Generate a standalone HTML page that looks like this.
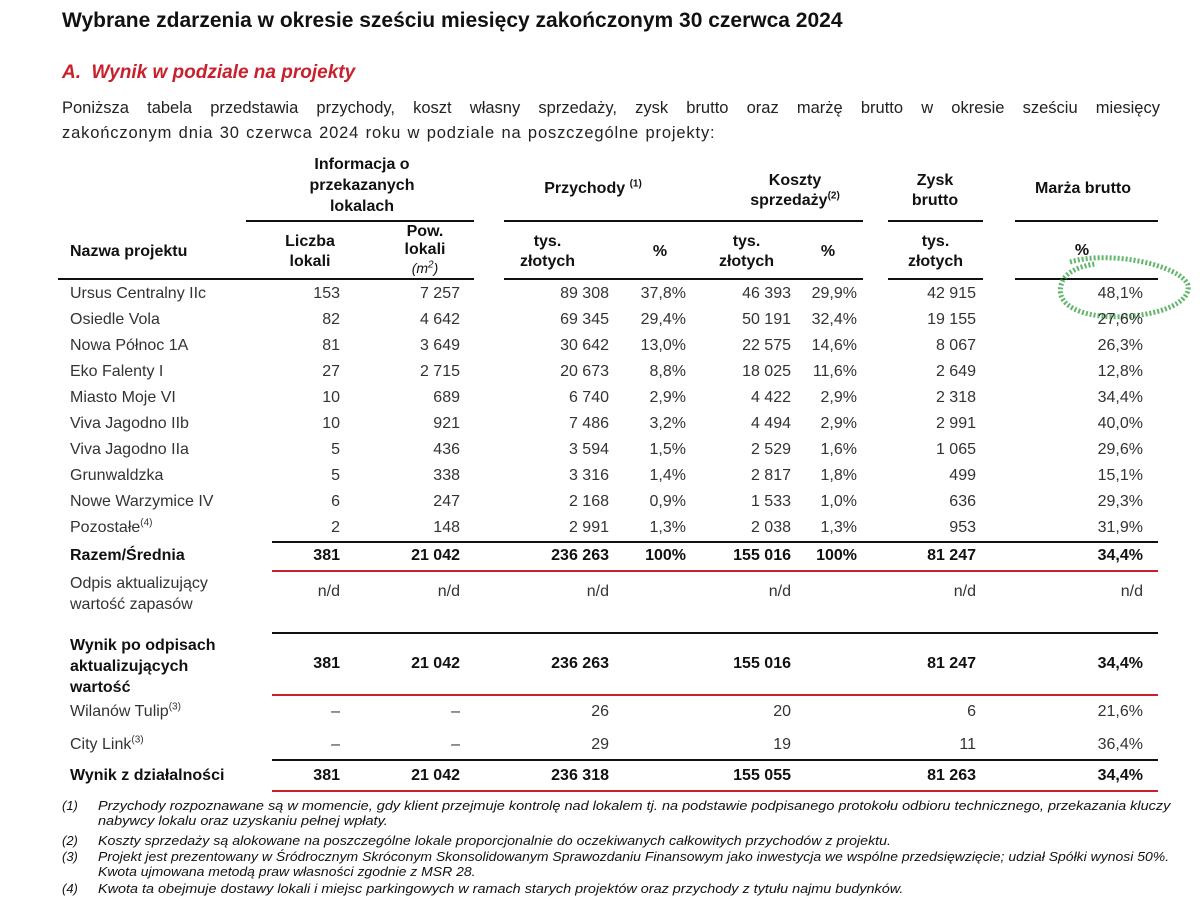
<!DOCTYPE html>
<html><head><meta charset="utf-8">
<style>
body{margin:0;width:1200px;height:902px;background:#fff;font-family:"Liberation Sans",sans-serif;color:#111;position:relative;overflow:hidden}
.t{position:absolute;white-space:nowrap;font-size:16px;line-height:18px}
.r{text-align:right}
.c{text-align:center}
.b{font-weight:bold}
.ln{position:absolute;height:2px;background:#111}
.red{background:#c8202c}
sup{font-size:10px;line-height:0}
.fn{position:absolute;font-size:13px;font-style:italic;white-space:nowrap;line-height:15px;transform-origin:left top}
.fnn{position:absolute;font-size:13px;font-style:italic;white-space:nowrap;line-height:15px}
</style></head><body>
<div class="t b" style="left:62px;top:9px;font-size:21px;line-height:24px">Wybrane zdarzenia w okresie sześciu miesięcy zakończonym 30 czerwca 2024</div>
<div class="t b" style="left:62px;top:62px;font-size:19px;line-height:22px;color:#c8202c;font-style:italic">A.&nbsp; Wynik w podziale na projekty</div>
<div class="t" style="left:62px;top:96px;width:1098px;white-space:nowrap;text-align:justify;text-align-last:justify;font-size:16.5px;line-height:25px;color:#222">Poniższa tabela przedstawia przychody, koszt własny sprzedaży, zysk brutto oraz marżę brutto w okresie sześciu miesięcy</div>
<div class="t" style="left:62px;top:121px;font-size:16.5px;line-height:25px;color:#222;letter-spacing:0.85px;word-spacing:1px">zakończonym dnia 30 czerwca 2024 roku w podziale na poszczególne projekty:</div>

<div class="t b c" style="left:262px;top:154px;width:200px;line-height:21px">Informacja o<br>przekazanych<br>lokalach</div>
<div class="t b c" style="left:493px;top:180px;width:200px">Przychody <sup>(1)</sup></div>
<div class="t b c" style="left:705px;top:171px;width:180px;line-height:20px">Koszty<br>sprzedaży<sup>(2)</sup></div>
<div class="t b c" style="left:885px;top:171px;width:100px;line-height:20px">Zysk<br>brutto</div>
<div class="t b c" style="left:1000px;top:180px;width:166px">Marża brutto</div>

<div class="ln" style="left:246px;top:220px;width:228px"></div>
<div class="ln" style="left:504px;top:220px;width:359px"></div>
<div class="ln" style="left:888px;top:220px;width:95px"></div>
<div class="ln" style="left:1015px;top:220px;width:143px"></div>

<div class="t b" style="left:70px;top:243px">Nazwa projektu</div>
<div class="t b c" style="left:270px;top:232px;width:80px;line-height:20px">Liczba<br>lokali</div>
<div class="t b c" style="left:385px;top:223px;width:80px;line-height:18px">Pow.<br>lokali<br><span style="font-weight:normal;font-style:italic;font-size:14px">(m<sup>2</sup>)</span></div>
<div class="t b c" style="left:505px;top:232px;width:85px;line-height:20px">tys.<br>złotych</div>
<div class="t b c" style="left:640px;top:243px;width:40px">%</div>
<div class="t b c" style="left:704px;top:232px;width:85px;line-height:20px">tys.<br>złotych</div>
<div class="t b c" style="left:808px;top:243px;width:40px">%</div>
<div class="t b c" style="left:893px;top:232px;width:85px;line-height:20px">tys.<br>złotych</div>
<div class="t b c" style="left:1062px;top:242px;width:40px">%</div>

<div class="ln" style="left:58px;top:278px;width:416px"></div>
<div class="ln" style="left:504px;top:278px;width:359px"></div>
<div class="ln" style="left:888px;top:278px;width:95px"></div>
<div class="ln" style="left:1015px;top:278px;width:143px"></div>

<svg style="position:absolute;left:1040px;top:250px" width="160" height="80">
<path d="M30,12 C70,0 140,15 148,35 C152,58 100,70 60,66 C30,62 15,50 22,32 C26,22 40,16 55,14" fill="none" stroke="#2e9e3a" stroke-width="5" stroke-dasharray="2 2" opacity="0.75"/>
</svg>

<div id="rows"></div>

<div class="fnn" style="left:62px;top:798px">(1)</div>
<div class="fn" style="left:98px;top:798px;transform:scaleX(1.115)">Przychody rozpoznawane są w momencie, gdy klient przejmuje kontrolę nad lokalem tj. na podstawie podpisanego protokołu odbioru technicznego, przekazania kluczy<br>nabywcy lokalu oraz uzyskaniu pełnej wpłaty.</div>
<div class="fnn" style="left:62px;top:833px">(2)</div>
<div class="fn" style="left:98px;top:833px;transform:scaleX(1.093)">Koszty sprzedaży są alokowane na poszczególne lokale proporcjonalnie do oczekiwanych całkowitych przychodów z projektu.</div>
<div class="fnn" style="left:62px;top:849px">(3)</div>
<div class="fn" style="left:98px;top:849px;transform:scaleX(1.075)">Projekt jest prezentowany w Śródrocznym Skróconym Skonsolidowanym Sprawozdaniu Finansowym jako inwestycja we wspólne przedsięwzięcie; udział Spółki wynosi 50%.<br>Kwota ujmowana metodą praw własności zgodnie z MSR 28.</div>
<div class="fnn" style="left:62px;top:881px">(4)</div>
<div class="fn" style="left:98px;top:881px;transform:scaleX(1.108)">Kwota ta obejmuje dostawy lokali i miejsc parkingowych w ramach starych projektów oraz przychody z tytułu najmu budynków.</div>

<script>
const names=["Ursus Centralny IIc","Osiedle Vola","Nowa Północ 1A","Eko Falenty I","Miasto Moje VI","Viva Jagodno IIb","Viva Jagodno IIa","Grunwaldzka","Nowe Warzymice IV","Pozostałe<sup>(4)</sup>","Razem/Średnia","Odpis aktualizujący<br>wartość zapasów","Wynik po odpisach<br>aktualizujących<br>wartość","Wilanów Tulip<sup>(3)</sup>","City Link<sup>(3)</sup>","Wynik z działalności"];
const liczba=["153","82","81","27","10","10","5","5","6","2","381","n/d","381","–","–","381"];
const pow=["7 257","4 642","3 649","2 715","689","921","436","338","247","148","21 042","n/d","21 042","–","–","21 042"];
const przychody=["89 308","69 345","30 642","20 673","6 740","7 486","3 594","3 316","2 168","2 991","236 263","n/d","236 263","26","29","236 318"];
const przychodyPct=["37,8%","29,4%","13,0%","8,8%","2,9%","3,2%","1,5%","1,4%","0,9%","1,3%","100%","","","","",""];
const koszty=["46 393","50 191","22 575","18 025","4 422","4 494","2 529","2 817","1 533","2 038","155 016","n/d","155 016","20","19","155 055"];
const kosztyPct=["29,9%","32,4%","14,6%","11,6%","2,9%","2,9%","1,6%","1,8%","1,0%","1,3%","100%","","","","",""];
const zysk=["42 915","19 155","8 067","2 649","2 318","2 991","1 065","499","636","953","81 247","n/d","81 247","6","11","81 263"];
const marza=["48,1%","27,6%","26,3%","12,8%","34,4%","40,0%","29,6%","15,1%","29,3%","31,9%","34,4%","n/d","34,4%","21,6%","36,4%","34,4%"];
const bold=[0,0,0,0,0,0,0,0,0,0,1,0,1,0,0,1];
const nameTop=[285,311,337,363,389,415,441,467,493,519,547,573,635,703,736,767];
const valTop=[285,311,337,363,389,415,441,467,493,519,547,583,655,703,736,767];
const cols=[[liczba,340],[pow,460],[przychody,609],[przychodyPct,686],[koszty,791],[kosztyPct,857],[zysk,976],[marza,1143]];
const colNames=["liczba","pow","przychody","przychody-pct","koszty","koszty-pct","zysk","marza"];
const root=document.getElementById('rows');
function slug(s){return s.replace(/<[^>]+>/g,' ').replace(/\(\d\)/g,'').toLowerCase().normalize('NFD').replace(/[\u0300-\u036f]/g,'').replace(/ł/g,'l').replace(/[^a-z0-9]+/g,'-').replace(/^-|-$/g,'');}
names.forEach((n,i)=>{
  const d=document.createElement('div');
  d.className='t'+(bold[i]?' b':'');
  d.style.left='70px';d.style.top=nameTop[i]+'px';
  d.style.lineHeight=(i==11||i==12)?'21px':'18px';
  d.style.color=bold[i]?'#111':'#333';
  d.innerHTML=n;
  
  
  root.appendChild(d);
  cols.forEach((c,j)=>{
    const v=c[0][i]; if(!v) return;
    const e=document.createElement('div');
    e.className='t r'+(bold[i]?' b':'');
    e.style.left=(c[1]-120)+'px';e.style.width='120px';e.style.top=valTop[i]+'px';
    e.style.color=bold[i]?'#111':'#333';
    e.textContent=v;
    
    
    root.appendChild(e);
  });
});
const ruleTops=[541,570,632,694,759,790];
const ruleRed=[0,1,0,1,0,1];
ruleTops.forEach((y,k)=>{
  const l=document.createElement('div');
  l.className='ln'+(ruleRed[k]?' red':'');
  l.style.left='272px';l.style.top=y+'px';l.style.width='886px';
  
  
  root.appendChild(l);
});
</script>
</body></html>
